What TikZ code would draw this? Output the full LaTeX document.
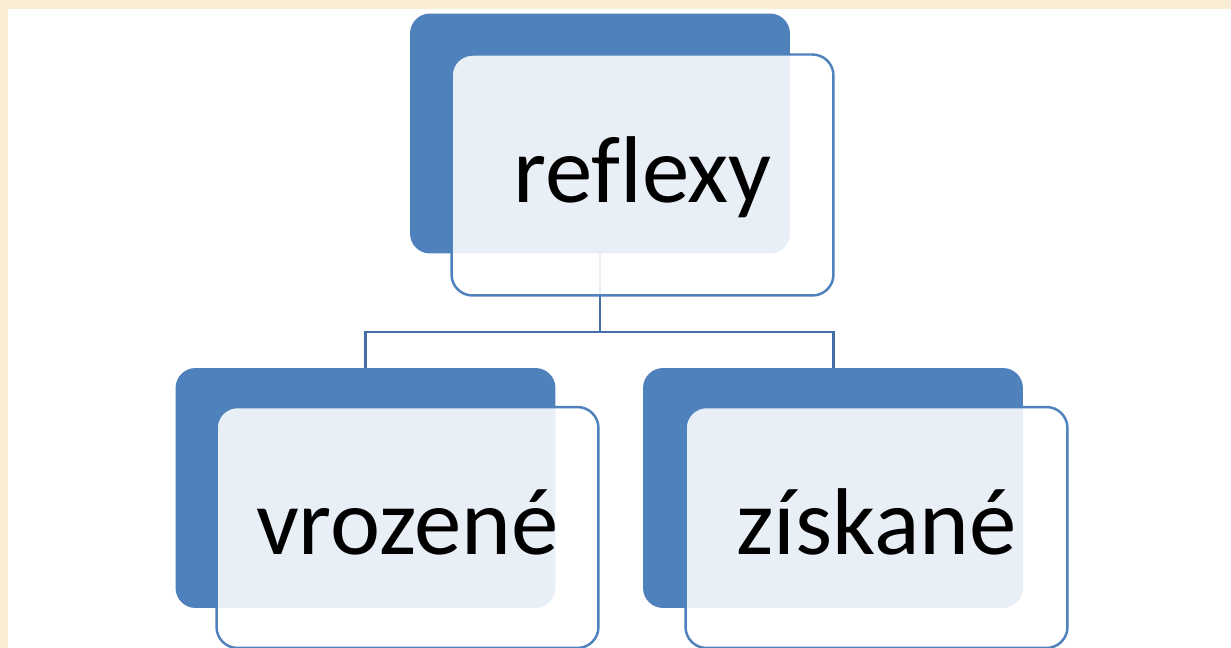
\documentclass[tikz,border=0pt]{standalone}
\usepackage{fontspec}
\setmainfont[Ligatures=NoCommon]{Carlito}
\usepackage{tikz}
\usetikzlibrary{positioning}

\definecolor{paper}{RGB}{249,237,213}
\definecolor{boxblue}{RGB}{79,129,189}
\definecolor{lineblue}{RGB}{68,110,165}

\tikzset{
	backbox/.style={rectangle, rounded corners=0.4cm, fill=boxblue,
		minimum width=7.6cm, minimum height=4.8cm, inner sep=0pt, outer sep=0pt},
	frontbox/.style={rectangle, rounded corners=0.42cm, draw=boxblue, line width=1.4pt,
		fill=white, fill opacity=0.88, text opacity=1,
		minimum width=7.64cm, minimum height=4.82cm, inner sep=0pt, outer sep=0pt,
		text height=36pt, text depth=5pt, font=\fontsize{54}{60}\selectfont},
	conn/.style={draw=lineblue, line width=1.7pt}
}

\begin{document}
\begin{tikzpicture}[x=0.02cm, y=-0.02cm]
	\useasboundingbox (0,0) rectangle (1231,648);
	\fill[paper] (0,0) rectangle (1231,648);
	\fill[white] (8,9) rectangle (1231,648);

	% back boxes
	\node[backbox] (rootback) at (600,133.5) {};
	\node[backbox] (leftback) at (365.5,488) {};
	\node[backbox] (rightback) at (833,488) {};

	% connectors
	\coordinate (split) at (600,332);
	\draw[conn] (rootback.south) -- (split);
	\draw[conn] (split) -| (leftback.north);
	\draw[conn] (split) -| (rightback.north);

	% front boxes
	\node[frontbox] (reflexy) at (642.5,175) {reflexy};
	\node[frontbox] (vrozene) at (407.5,527.5) {vrozené};
	\node[frontbox] (ziskane) at (876.5,527.5) {získané};
\end{tikzpicture}
\end{document}
